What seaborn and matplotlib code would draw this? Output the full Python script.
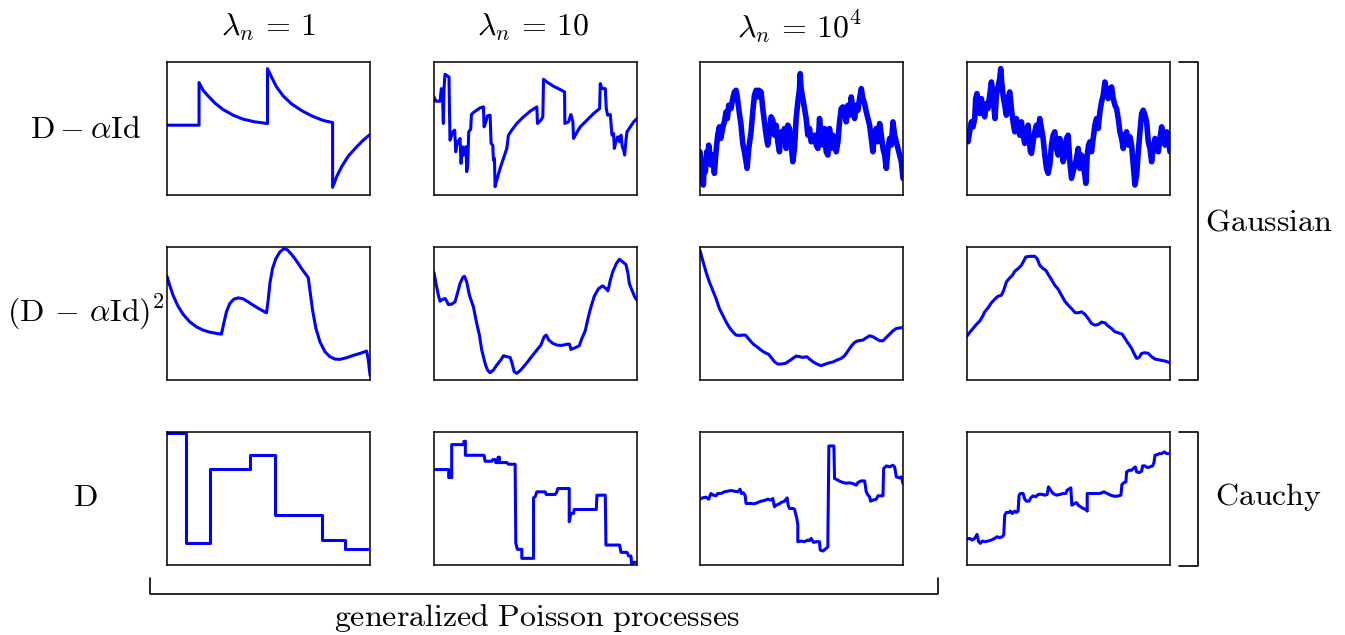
import numpy as np
import matplotlib
matplotlib.use("Agg")
import matplotlib.pyplot as plt
import seaborn as sns
from matplotlib.lines import Line2D

sns.set_theme(style="white")
plt.rcParams["mathtext.fontset"] = "cm"
plt.rcParams["font.family"] = ["DejaVu Serif"]

# ---------------- data (time t, value v) ----------------
col_titles = [r"$\lambda_n\,=\,1$", r"$\lambda_n\,=\,10$", r"$\lambda_n\,=\,10^4$"]
row_labels = [r"$\mathrm{D}-\alpha\mathrm{Id}$", r"$(\mathrm{D}\,-\,\alpha\mathrm{Id})^2$", r"$\mathrm{D}$"]
group_labels = [r"$\mathrm{Gaussian}$", r"$\mathrm{Cauchy}$"]
bottom_label = r"$\mathrm{generalized\ Poisson\ processes}$"

t_r1c1 = [0, 96, 96, 108, 123, 143, 168, 198, 228, 263, 301, 301, 313, 328, 348, 373, 403, 433, 468, 496,
          496, 508, 523, 543, 568, 588, 608]
v_r1c1 = [210, 210, 338, 315, 298, 277, 257, 240, 228, 220, 215, 380, 355, 325, 298, 274, 254, 238, 224, 218,
          23, 55, 85, 117, 145, 165, 182]

t_r1c2 = [0, 6, 18, 22, 26, 28, 30, 33, 40, 45, 46, 48, 53, 58, 62, 65, 70, 73, 76, 78, 81, 85, 88, 90, 96, 98,
          101, 104, 110, 112, 118, 128, 138, 148, 150, 156, 160, 168, 171, 176, 178, 181, 183, 188, 198, 208, 218,
          223, 233, 248, 268, 288, 308, 310, 320, 326, 328, 338, 358, 378, 391, 392, 403, 410, 416, 418, 423, 438,
          458, 478, 496, 498, 503, 513, 516, 520, 528, 533, 538, 540, 545, 550, 556, 560, 564, 568, 571, 575, 578,
          588, 598, 608]
v_r1c2 = [295, 282, 282, 320, 280, 215, 320, 363, 358, 355, 275, 165, 180, 192, 195, 130, 162, 155, 165, 170,
          95, 145, 120, 140, 145, 70, 90, 190, 198, 242, 248, 255, 262, 265, 205, 222, 238, 240, 155, 150, 105,
          110, 25, 45, 80, 110, 140, 180, 195, 215, 235, 252, 265, 215, 225, 235, 348, 340, 327, 317, 310, 215,
          220, 242, 220, 170, 180, 205, 225, 245, 260, 335, 320, 320, 260, 240, 242, 180, 185, 140, 160, 175, 160,
          180, 145, 135, 120, 165, 190, 205, 220, 230]

t_r1c3 = [0, 5, 10, 13, 16, 20, 23, 26, 30, 33, 38, 43, 48, 53, 58, 62, 66, 70, 73, 78, 82, 86, 93, 98, 103,
          108, 111, 116, 123, 128, 133, 138, 141, 146, 153, 158, 163, 168, 173, 176, 183, 188, 193, 198, 203, 208,
          213, 218, 223, 228, 233, 238, 243, 248, 253, 258, 263, 268, 273, 278, 283, 288, 293, 298, 300, 303, 308,
          313, 318, 323, 328, 333, 338, 343, 348, 353, 358, 363, 368, 373, 378, 383, 388, 393, 398, 403, 408, 413,
          418, 423, 428, 433, 438, 443, 448, 453, 458, 463, 468, 473, 478, 483, 488, 493, 498, 503, 508, 513, 518,
          523, 528, 533, 538, 543, 548, 553, 558, 563, 568, 573, 578, 583, 588, 593, 598, 603, 608]
v_r1c3 = [130, 80, 30, 100, 70, 130, 110, 150, 120, 90, 120, 65, 130, 180, 205, 170, 190, 210, 220, 250, 230,
          270, 260, 290, 310, 315, 300, 260, 210, 155, 130, 100, 80, 140, 190, 250, 300, 315, 295, 315, 310, 260,
          220, 180, 150, 190, 235, 225, 180, 210, 160, 130, 190, 170, 200, 140, 210, 200, 150, 100, 140, 230, 280,
          320, 365, 320, 290, 260, 230, 180, 200, 160, 170, 180, 150, 140, 230, 180, 150, 200, 130, 120, 200, 140,
          180, 160, 130, 160, 220, 260, 265, 250, 220, 270, 240, 295, 260, 230, 270, 255, 290, 320, 290, 275, 250,
          230, 210, 170, 130, 190, 200, 160, 215, 180, 140, 120, 80, 140, 170, 150, 220, 180, 160, 140, 120, 100, 50]

t_r1c4 = [0, 3, 8, 13, 18, 23, 26, 30, 34, 38, 43, 48, 53, 58, 63, 68, 73, 76, 80, 84, 88, 93, 98, 101, 104, 108,
          113, 118, 123, 128, 133, 138, 143, 148, 153, 158, 163, 168, 173, 178, 183, 186, 190, 193, 198, 203, 208,
          213, 218, 223, 228, 233, 238, 243, 248, 253, 258, 263, 268, 273, 278, 283, 288, 293, 298, 303, 308, 313,
          318, 323, 328, 333, 338, 343, 348, 353, 356, 360, 364, 368, 373, 378, 383, 388, 393, 398, 403, 408, 413,
          418, 423, 428, 433, 438, 443, 448, 453, 458, 463, 468, 473, 478, 483, 488, 493, 498, 503, 508, 513, 518,
          523, 528, 533, 538, 543, 548, 553, 558, 563, 568, 573, 578, 583, 588, 593, 598, 603, 608]
v_r1c4 = [180, 160, 190, 220, 205, 230, 290, 305, 270, 245, 290, 250, 235, 275, 260, 300, 340, 320, 270, 230,
          300, 325, 350, 380, 340, 300, 270, 240, 290, 310, 260, 220, 190, 230, 205, 180, 220, 180, 155, 190, 210,
          170, 130, 125, 160, 190, 210, 180, 230, 200, 170, 120, 80, 65, 90, 150, 180, 190, 140, 120, 170, 150,
          100, 120, 170, 180, 100, 50, 70, 90, 110, 140, 80, 120, 90, 60, 35, 120, 150, 160, 130, 170, 210, 230,
          200, 250, 280, 300, 340, 310, 290, 320, 325, 290, 270, 260, 230, 190, 170, 140, 180, 190, 150, 175, 150,
          90, 30, 60, 130, 190, 245, 255, 240, 220, 160, 140, 100, 140, 170, 150, 130, 170, 205, 180, 150, 190,
          170, 130]

t_r2c1 = [0, 8, 18, 33, 48, 68, 88, 108, 128, 148, 163, 170, 178, 188, 200, 213, 228, 243, 258, 278, 298, 303,
          308, 316, 326, 338, 350, 360, 373, 388, 403, 423, 428, 436, 446, 458, 473, 488, 503, 518, 538, 558, 578,
          598, 603, 608]
v_r2c1 = [312, 285, 255, 222, 198, 175, 160, 150, 144, 140, 138, 170, 205, 230, 243, 247, 244, 235, 225, 213,
          202, 240, 290, 335, 365, 385, 395, 392, 378, 358, 335, 308, 270, 210, 155, 115, 85, 70, 63, 62, 67, 74,
          80, 87, 60, 15]

t_r2c2 = [0, 6, 13, 18, 25, 33, 38, 43, 53, 63, 70, 78, 86, 91, 98, 106, 118, 128, 136, 143, 153, 160, 168, 178,
          188, 200, 208, 218, 228, 234, 240, 248, 258, 270, 283, 296, 308, 320, 330, 336, 344, 356, 368, 383, 396,
          406, 410, 423, 435, 443, 453, 460, 468, 480, 493, 505, 515, 521, 528, 536, 546, 555, 563, 575, 581, 585,
          593, 601, 608]
v_r2c2 = [323, 290, 255, 237, 242, 245, 237, 227, 228, 235, 260, 290, 308, 312, 295, 255, 220, 170, 135, 90, 50,
          30, 22, 30, 45, 60, 73, 70, 68, 50, 25, 20, 28, 42, 58, 75, 90, 105, 130, 135, 120, 110, 105, 104, 107,
          108, 92, 97, 103, 125, 148, 180, 212, 252, 275, 283, 275, 268, 300, 327, 350, 363, 357, 347, 320, 290,
          270, 250, 240]

t_r2c3 = [0, 8, 18, 28, 38, 48, 58, 68, 78, 88, 98, 108, 118, 128, 136, 143, 153, 163, 173, 183, 193, 206, 213,
          223, 233, 243, 256, 268, 278, 288, 298, 308, 320, 328, 338, 350, 363, 373, 388, 398, 410, 423, 433, 443,
          453, 463, 473, 488, 498, 508, 518, 528, 538, 548, 558, 568, 578, 588, 608]
v_r2c3 = [390, 360, 325, 295, 270, 245, 215, 195, 175, 158, 145, 135, 134, 135, 135, 127, 115, 105, 98, 90, 83,
          77, 68, 55, 48, 48, 50, 58, 65, 72, 70, 68, 70, 63, 55, 48, 43, 47, 52, 54, 60, 65, 73, 87, 102, 113,
          118, 120, 127, 133, 130, 124, 118, 118, 128, 138, 148, 155, 158]

t_r2c4 = [0, 8, 18, 28, 38, 46, 53, 63, 73, 83, 93, 103, 110, 118, 126, 136, 143, 153, 163, 170, 176, 188, 203,
          210, 218, 228, 236, 243, 253, 263, 273, 283, 293, 303, 313, 323, 333, 343, 353, 363, 373, 383, 393, 403,
          413, 423, 433, 443, 453, 465, 473, 483, 493, 500, 508, 516, 523, 533, 543, 553, 563, 578, 593, 608]
v_r2c4 = [132, 143, 155, 167, 177, 190, 205, 217, 232, 243, 252, 255, 270, 295, 305, 315, 327, 335, 345, 358,
          370, 372, 372, 365, 345, 335, 330, 318, 302, 285, 273, 255, 237, 225, 215, 203, 202, 205, 198, 185, 170,
          165, 167, 174, 172, 162, 155, 145, 142, 138, 125, 110, 95, 80, 65, 68, 80, 82, 80, 70, 63, 60, 57, 52]

t_r3c1 = [0, 56, 56, 98, 98, 130, 130, 250, 250, 323, 323, 463, 463, 534, 534, 608]
v_r3c1 = [398, 398, 67, 67, 65, 65, 288, 288, 330, 330, 150, 150, 75, 75, 48, 48]

t_r3c2 = [0, 44, 44, 53, 53, 88, 90, 94, 94, 143, 150, 153, 173, 176, 183, 185, 190, 192, 196, 196, 218, 223,
          243, 245, 250, 263, 263, 298, 298, 303, 308, 333, 336, 363, 368, 371, 405, 405, 410, 418, 420, 486, 488,
          493, 513, 515, 556, 560, 578, 583, 590, 592, 598, 608]
v_r3c2 = [287, 287, 263, 263, 362, 362, 372, 372, 330, 330, 330, 312, 312, 317, 317, 308, 308, 324, 324, 308,
          308, 303, 303, 65, 47, 47, 20, 20, 202, 205, 220, 220, 212, 212, 220, 230, 230, 130, 155, 155, 167, 167,
          210, 210, 210, 60, 60, 38, 38, 27, 27, 0, 8, 8]

t_r3c3 = [0, 8, 18, 26, 33, 40, 48, 53, 63, 73, 83, 93, 103, 113, 120, 124, 130, 135, 138, 153, 163, 173, 183,
          193, 203, 213, 218, 223, 228, 236, 243, 253, 261, 264, 268, 278, 283, 290, 293, 293, 303, 313, 323, 328,
          333, 340, 348, 358, 360, 368, 378, 383, 383, 386, 401, 403, 408, 418, 428, 438, 448, 458, 468, 473, 483,
          493, 498, 503, 508, 511, 518, 528, 533, 543, 548, 550, 558, 568, 578, 583, 588, 598, 603, 608]
v_r3c3 = [198, 202, 204, 198, 215, 210, 208, 215, 215, 220, 222, 224, 222, 220, 228, 215, 217, 210, 185, 185,
          184, 188, 192, 194, 198, 195, 200, 175, 180, 183, 188, 192, 202, 180, 170, 170, 168, 140, 120, 70, 72,
          70, 75, 73, 80, 68, 70, 70, 45, 42, 50, 55, 80, 358, 358, 260, 258, 252, 248, 246, 247, 245, 240, 248,
          253, 253, 220, 210, 205, 192, 195, 198, 208, 208, 208, 290, 298, 295, 300, 295, 265, 262, 265, 245]

t_r3c4 = [0, 8, 16, 23, 30, 35, 40, 46, 53, 63, 73, 83, 90, 98, 105, 110, 113, 118, 126, 130, 136, 143, 148, 153,
          156, 160, 168, 173, 178, 186, 191, 198, 206, 213, 223, 233, 240, 244, 250, 258, 268, 278, 288, 296, 300,
          311, 314, 321, 328, 333, 340, 348, 356, 360, 360, 373, 388, 398, 410, 420, 430, 440, 450, 461, 464, 471,
          476, 478, 486, 493, 498, 504, 508, 516, 523, 526, 533, 540, 548, 556, 560, 563, 570, 576, 583, 591, 598,
          608]
v_r3c4 = [78, 80, 75, 80, 92, 70, 65, 72, 70, 72, 75, 80, 85, 82, 85, 90, 150, 158, 158, 162, 155, 162, 158, 162,
          210, 215, 215, 198, 192, 192, 202, 208, 205, 212, 213, 210, 212, 235, 225, 215, 210, 212, 215, 215, 225,
          232, 180, 184, 188, 180, 175, 170, 167, 162, 215, 215, 215, 215, 220, 215, 210, 207, 207, 210, 242, 248,
          250, 280, 285, 285, 290, 295, 280, 278, 282, 298, 298, 293, 295, 298, 308, 330, 332, 335, 335, 340, 335,
          335]

panels = [
    [(t_r1c1, v_r1c1), (t_r1c2, v_r1c2), (t_r1c3, v_r1c3), (t_r1c4, v_r1c4)],
    [(t_r2c1, v_r2c1), (t_r2c2, v_r2c2), (t_r2c3, v_r2c3), (t_r2c4, v_r2c4)],
    [(t_r3c1, v_r3c1), (t_r3c2, v_r3c2), (t_r3c3, v_r3c3), (t_r3c4, v_r3c4)],
]
noisy = {(0, 2), (0, 3)}

# ---------------- layout ----------------
W, H = 1345, 635
fig = plt.figure(figsize=(W / 100, H / 100), dpi=100)
col_left = [167, 434, 700, 967]
row_top = [62, 247, 432]
pw, ph = 203, 133

for r in range(3):
    for c in range(4):
        L, T = col_left[c], row_top[r]
        ax = fig.add_axes([L / W, (H - T - ph) / H, pw / W, ph / H])
        t, v = panels[r][c]
        lw = 4.0 if (r, c) in noisy else 2.2
        sns.lineplot(x=t, y=v, ax=ax, color="#0000ff", linewidth=lw, estimator=None, sort=False)
        ax.set_xlim(0, 608)
        ax.set_ylim(0, 400)
        ax.set_xticks([])
        ax.set_yticks([])
        ax.set_xlabel("")
        ax.set_ylabel("")
        for s in ax.spines.values():
            s.set_visible(True)
            s.set_color("black")
            s.set_linewidth(1.1)

fs = 23
def ftext(x, y, s, **kw):
    fig.text(x / W, 1 - y / H, s, fontsize=fs, ha="center", va="center", color="black", **kw)

for x, s in zip([268, 533, 800], col_titles):
    ftext(x, 27, s)
ftext(86, 130, row_labels[0])
ftext(86, 312, row_labels[1])
ftext(85, 498, row_labels[2])
ftext(1269, 222, group_labels[0])
ftext(1268, 497, group_labels[1])
ftext(537, 618, bottom_label)

def fline(xs, ys):
    fig.add_artist(Line2D([x / W for x in xs], [1 - y / H for y in ys], color="black", lw=1.2,
                          transform=fig.transFigure))

fline([1179, 1198, 1198, 1179], [62, 62, 380, 380])
fline([1179, 1198, 1198, 1179], [432, 432, 566, 566])
fline([150, 150, 938, 938], [578, 594, 594, 578])

fig.savefig("out.png", dpi=100)
